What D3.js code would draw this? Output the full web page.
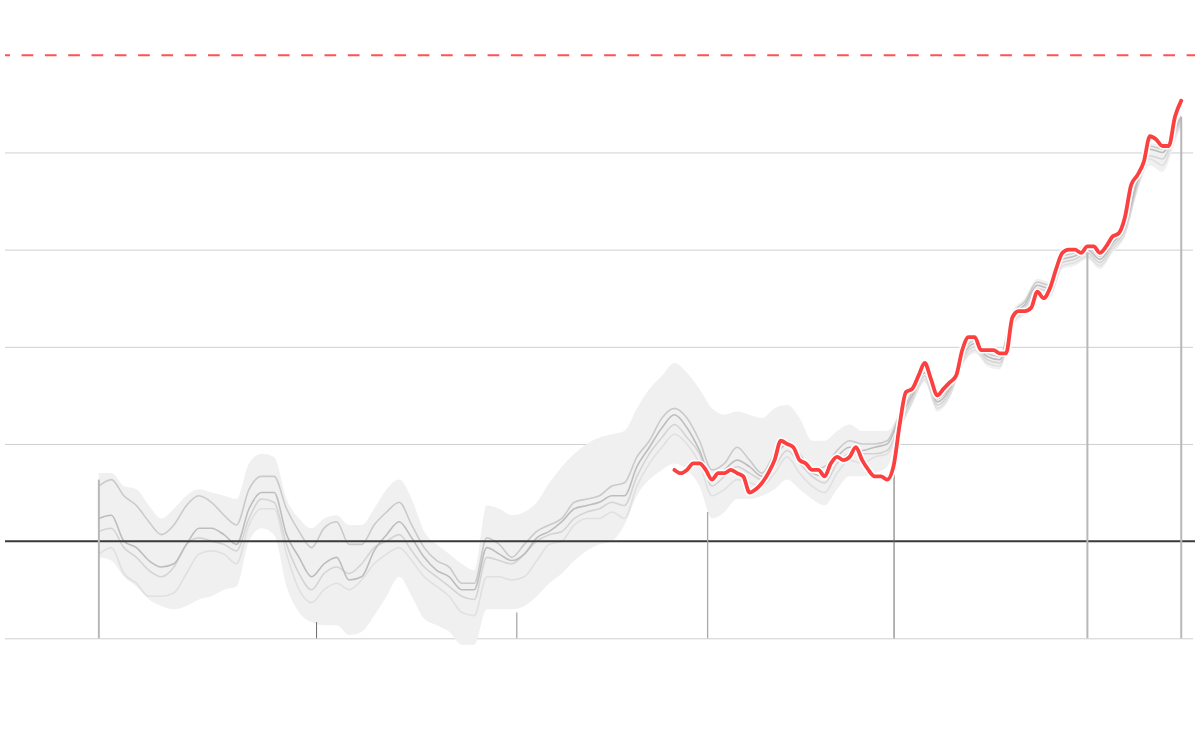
<!DOCTYPE html>
<html>
<head>
<meta charset="utf-8">
<script src="https://cdn.jsdelivr.net/npm/d3@7"></script>
<style>
  html, body { margin: 0; padding: 0; background: #fff; }
  svg { display: block; }
</style>
</head>
<body>
<div class="content"></div>
<script>
// years of the reconstructions (every two years + last year)
var years = [1850, 1852, 1854, 1856, 1858, 1860, 1862, 1864, 1866, 1868,
    1870, 1872, 1874, 1876, 1878, 1880, 1882, 1884, 1886, 1888,
    1890, 1892, 1894, 1896, 1898, 1900, 1902, 1904, 1906, 1908,
    1910, 1912, 1914, 1916, 1918, 1920, 1922, 1924, 1926, 1928,
    1930, 1932, 1934, 1936, 1938, 1940, 1942, 1944, 1946, 1948,
    1950, 1952, 1954, 1956, 1958, 1960, 1962, 1964, 1966, 1968,
    1970, 1972, 1974, 1976, 1978, 1980, 1982, 1984, 1986, 1988,
    1990, 1992, 1994, 1996, 1998, 2000, 2002, 2004, 2006, 2008,
    2010, 2012, 2014, 2016, 2018, 2020, 2022, 2023];

// grey datasets, anomaly in degrees
var seriesA = [0.17, 0.19, 0.14, 0.11, 0.06, 0.02, 0.05, 0.11, 0.14, 0.12,
    0.08, 0.05, 0.16, 0.20, 0.20, 0.10, 0.03, -0.02, 0.04, 0.06,
    -0.01, -0.01, 0.05, 0.09, 0.12, 0.05, -0.02, -0.06, -0.08, -0.13,
    -0.13, 0.01, -0.01, -0.05, -0.01, 0.03, 0.05, 0.07, 0.12, 0.13,
    0.14, 0.17, 0.18, 0.26, 0.31, 0.38, 0.41, 0.38, 0.31, 0.22,
    0.24, 0.29, 0.25, 0.21, 0.27, 0.31, 0.27, 0.22, 0.23, 0.28,
    0.31, 0.30, 0.30, 0.31, 0.39, 0.46, 0.53, 0.44, 0.48, 0.58,
    0.62, 0.58, 0.57, 0.70, 0.74, 0.80, 0.79, 0.88, 0.89, 0.91,
    0.88, 0.93, 0.98, 1.12, 1.22, 1.21, 1.28, 1.31];
var seriesB = [0.07, 0.08, 0.00, -0.02, -0.06, -0.08, -0.07, -0.01, 0.04, 0.04,
    0.02, -0.01, 0.10, 0.15, 0.15, 0.02, -0.05, -0.11, -0.07, -0.05,
    -0.12, -0.11, -0.03, 0.02, 0.06, 0.01, -0.05, -0.09, -0.11, -0.15,
    -0.15, -0.02, -0.04, -0.06, -0.04, 0.01, 0.03, 0.06, 0.10, 0.11,
    0.12, 0.14, 0.14, 0.23, 0.29, 0.35, 0.39, 0.35, 0.28, 0.19,
    0.22, 0.25, 0.23, 0.20, 0.26, 0.30, 0.25, 0.21, 0.20, 0.26,
    0.29, 0.28, 0.29, 0.30, 0.38, 0.45, 0.52, 0.43, 0.47, 0.57,
    0.61, 0.57, 0.56, 0.69, 0.73, 0.79, 0.78, 0.87, 0.88, 0.90,
    0.87, 0.92, 0.97, 1.11, 1.21, 1.20, 1.27, 1.31];
var seriesC = [0.03, 0.04, -0.02, -0.05, -0.09, -0.11, -0.08, -0.01, 0.01, 0.00,
    -0.01, -0.03, 0.07, 0.13, 0.12, -0.01, -0.10, -0.15, -0.10, -0.08,
    -0.10, -0.07, -0.02, 0.00, 0.02, -0.03, -0.08, -0.11, -0.14, -0.17,
    -0.18, -0.05, -0.06, -0.07, -0.04, 0.00, 0.02, 0.03, 0.07, 0.09,
    0.10, 0.12, 0.11, 0.20, 0.27, 0.32, 0.36, 0.32, 0.27, 0.17,
    0.20, 0.23, 0.21, 0.19, 0.23, 0.28, 0.24, 0.20, 0.18, 0.24,
    0.27, 0.27, 0.27, 0.28, 0.36, 0.44, 0.51, 0.42, 0.46, 0.56,
    0.60, 0.56, 0.55, 0.68, 0.72, 0.78, 0.77, 0.86, 0.87, 0.89,
    0.86, 0.91, 0.96, 1.10, 1.19, 1.18, 1.26, 1.30];
var seriesD = [-0.04, -0.02, -0.10, -0.13, -0.17, -0.17, -0.16, -0.10, -0.04, -0.03,
    -0.04, -0.07, 0.05, 0.10, 0.10, -0.04, -0.15, -0.19, -0.15, -0.13,
    -0.15, -0.12, -0.07, -0.04, -0.02, -0.06, -0.11, -0.14, -0.17, -0.22,
    -0.23, -0.11, -0.11, -0.12, -0.11, -0.06, -0.01, 0.00, 0.05, 0.07,
    0.07, 0.09, 0.07, 0.17, 0.24, 0.29, 0.33, 0.30, 0.24, 0.14,
    0.16, 0.19, 0.18, 0.17, 0.21, 0.26, 0.21, 0.17, 0.15, 0.21,
    0.25, 0.24, 0.26, 0.27, 0.35, 0.43, 0.50, 0.41, 0.45, 0.55,
    0.59, 0.55, 0.54, 0.67, 0.71, 0.77, 0.76, 0.85, 0.86, 0.88,
    0.85, 0.90, 0.95, 1.09, 1.18, 1.16, 1.25, 1.29];

// uncertainty band
var bandTop = [0.21, 0.21, 0.17, 0.16, 0.11, 0.07, 0.10, 0.14, 0.16, 0.15,
    0.14, 0.13, 0.24, 0.27, 0.26, 0.13, 0.07, 0.04, 0.07, 0.08,
    0.05, 0.05, 0.10, 0.16, 0.19, 0.13, 0.03, -0.01, -0.04, -0.07,
    -0.09, 0.11, 0.10, 0.08, 0.09, 0.12, 0.18, 0.23, 0.27, 0.30,
    0.32, 0.33, 0.34, 0.41, 0.47, 0.51, 0.55, 0.52, 0.47, 0.41,
    0.39, 0.40, 0.39, 0.38, 0.41, 0.42, 0.38, 0.31, 0.31, 0.34,
    0.36, 0.34, 0.34, 0.34, 0.40, 0.47, 0.54, 0.45, 0.49, 0.59,
    0.63, 0.59, 0.58, 0.71, 0.75, 0.81, 0.80, 0.89, 0.90, 0.92,
    0.89, 0.94, 0.99, 1.13, 1.23, 1.22, 1.29, 1.32];
var bandBottom = [-0.05, -0.06, -0.11, -0.14, -0.18, -0.20, -0.21, -0.20, -0.18, -0.17,
    -0.15, -0.14, 0.00, 0.04, 0.02, -0.14, -0.22, -0.25, -0.26, -0.26,
    -0.29, -0.28, -0.23, -0.17, -0.11, -0.17, -0.24, -0.26, -0.28, -0.32,
    -0.32, -0.21, -0.21, -0.21, -0.20, -0.17, -0.13, -0.10, -0.06, -0.03,
    -0.01, 0.00, 0.05, 0.14, 0.19, 0.22, 0.24, 0.22, 0.17, 0.07,
    0.09, 0.13, 0.13, 0.14, 0.16, 0.19, 0.16, 0.13, 0.11, 0.16,
    0.20, 0.20, 0.21, 0.23, 0.34, 0.42, 0.49, 0.40, 0.44, 0.54,
    0.58, 0.54, 0.53, 0.66, 0.70, 0.76, 0.75, 0.84, 0.85, 0.87,
    0.84, 0.89, 0.94, 1.08, 1.16, 1.14, 1.23, 1.28];

// highlighted (red) series, yearly
var redYears = [1942, 1943, 1944, 1945, 1946, 1947, 1948, 1949, 1950, 1951,
    1952, 1953, 1954, 1955, 1956, 1957, 1958, 1959, 1960, 1961,
    1962, 1963, 1964, 1965, 1966, 1967, 1968, 1969, 1970, 1971,
    1972, 1973, 1974, 1975, 1976, 1977, 1978, 1979, 1980, 1981,
    1982, 1983, 1984, 1985, 1986, 1987, 1988, 1989, 1990, 1991,
    1992, 1993, 1994, 1995, 1996, 1997, 1998, 1999, 2000, 2001,
    2002, 2003, 2004, 2005, 2006, 2007, 2008, 2009, 2010, 2011,
    2012, 2013, 2014, 2015, 2016, 2017, 2018, 2019, 2020, 2021,
    2022, 2023];
var redValues = [0.22, 0.21, 0.22, 0.24, 0.24, 0.22, 0.19, 0.21, 0.21, 0.22,
    0.21, 0.20, 0.15, 0.16, 0.18, 0.21, 0.25, 0.31, 0.30, 0.29,
    0.25, 0.24, 0.22, 0.22, 0.20, 0.24, 0.26, 0.25, 0.26, 0.29,
    0.25, 0.22, 0.20, 0.20, 0.19, 0.23, 0.36, 0.46, 0.47, 0.51,
    0.55, 0.50, 0.45, 0.47, 0.49, 0.51, 0.59, 0.63, 0.63, 0.59,
    0.59, 0.59, 0.58, 0.58, 0.69, 0.71, 0.71, 0.72, 0.77, 0.75,
    0.78, 0.84, 0.89, 0.90, 0.90, 0.89, 0.91, 0.91, 0.89, 0.91,
    0.94, 0.95, 1.00, 1.10, 1.13, 1.17, 1.25, 1.24, 1.22, 1.22,
    1.31, 1.36];

// marker lines from the bottom
var eventYears = [1850, 1884.8, 1916.8, 1947.3, 1977.1, 2008, 2023];
var eventValues = [0.19, -0.25, -0.22, 0.09, 0.21, 0.89, 1.31];
var eventKinds = ['light', 'dark', 'mid', 'mid', 'dark', 'light', 'light'];

var gridTicks = [-0.3, 0.3, 0.6, 0.9, 1.2];
var limit = 1.5;

var w = 1200,
    h = 732;

var svg = d3.select('.content').append('svg')
    .attr('width', w)
    .attr('height', h);

var x = d3.scaleLinear().domain([1835, 2025]).range([5, 1193.75]);
var y = d3.scaleLinear().domain([-0.3, 1.5]).range([638.3, 55.3]);

// horizontal grid
var grid = svg.append('g')
    .attr('transform', 'translate(5,0)')
    .call(d3.axisLeft(y).tickValues(gridTicks).tickSize(-1188).tickFormat(''));
grid.select('.domain').remove();
grid.selectAll('line').attr('stroke', '#cfcfcf').attr('stroke-width', 1);

// dashed limit line
svg.append('line')
    .attr('x1', 5).attr('x2', 1195)
    .attr('y1', y(limit)).attr('y2', y(limit))
    .attr('stroke', '#ff5252')
    .attr('stroke-width', 2)
    .attr('stroke-dasharray', '11.7,11.6')
    .attr('stroke-dashoffset', 6.7);

// band
var band = d3.area()
    .x(function(d, i) { return x(years[i]); })
    .y0(function(d, i) { return y(bandBottom[i]); })
    .y1(function(d, i) { return y(bandTop[i]); })
    .curve(d3.curveMonotoneX);
svg.append('path')
    .attr('d', band(years))
    .attr('fill', '#f0f0f0');

// grey lines
var greys = [
    { values: seriesD, color: '#e0e0e0' },
    { values: seriesC, color: '#d4d4d4' },
    { values: seriesA, color: '#cacaca' },
    { values: seriesB, color: '#bdbdbd' }
];
var greyLine = d3.line()
    .x(function(d, i) { return x(years[i]); })
    .y(function(d) { return y(d); })
    .curve(d3.curveMonotoneX);
svg.append('g').selectAll('path')
    .data(greys)
    .enter()
    .append('path')
    .attr('d', function(d) { return greyLine(d.values); })
    .attr('fill', 'none')
    .attr('stroke', function(d) { return d.color; })
    .attr('stroke-width', 1.6);

// zero line
svg.append('line')
    .attr('x1', 5).attr('x2', 1195)
    .attr('y1', y(0)).attr('y2', y(0))
    .attr('stroke', '#3a3a3a')
    .attr('stroke-width', 2);

// event lines
var eventStyle = {
    light: { color: '#b8b8b8', width: 2 },
    mid: { color: '#a8a8a8', width: 1.3 },
    dark: { color: '#6a6a6a', width: 1 }
};
svg.append('g').selectAll('line')
    .data(eventYears)
    .enter()
    .append('line')
    .attr('x1', function(d) { return x(d); })
    .attr('x2', function(d) { return x(d); })
    .attr('y1', y(-0.3))
    .attr('y2', function(d, i) { return y(eventValues[i]); })
    .attr('stroke', function(d, i) { return eventStyle[eventKinds[i]].color; })
    .attr('stroke-width', function(d, i) { return eventStyle[eventKinds[i]].width; });

// red series with white halo
var redLine = d3.line()
    .x(function(d, i) { return x(redYears[i]); })
    .y(function(d) { return y(d); })
    .curve(d3.curveMonotoneX);
svg.append('path')
    .attr('d', redLine(redValues))
    .attr('fill', 'none')
    .attr('stroke', '#fff')
    .attr('stroke-width', 7)
    .attr('stroke-linejoin', 'round')
    .attr('stroke-linecap', 'round');
svg.append('path')
    .attr('d', redLine(redValues))
    .attr('fill', 'none')
    .attr('stroke', '#fc4040')
    .attr('stroke-width', 3.8)
    .attr('stroke-linejoin', 'round')
    .attr('stroke-linecap', 'round');
</script>
</body>
</html>
